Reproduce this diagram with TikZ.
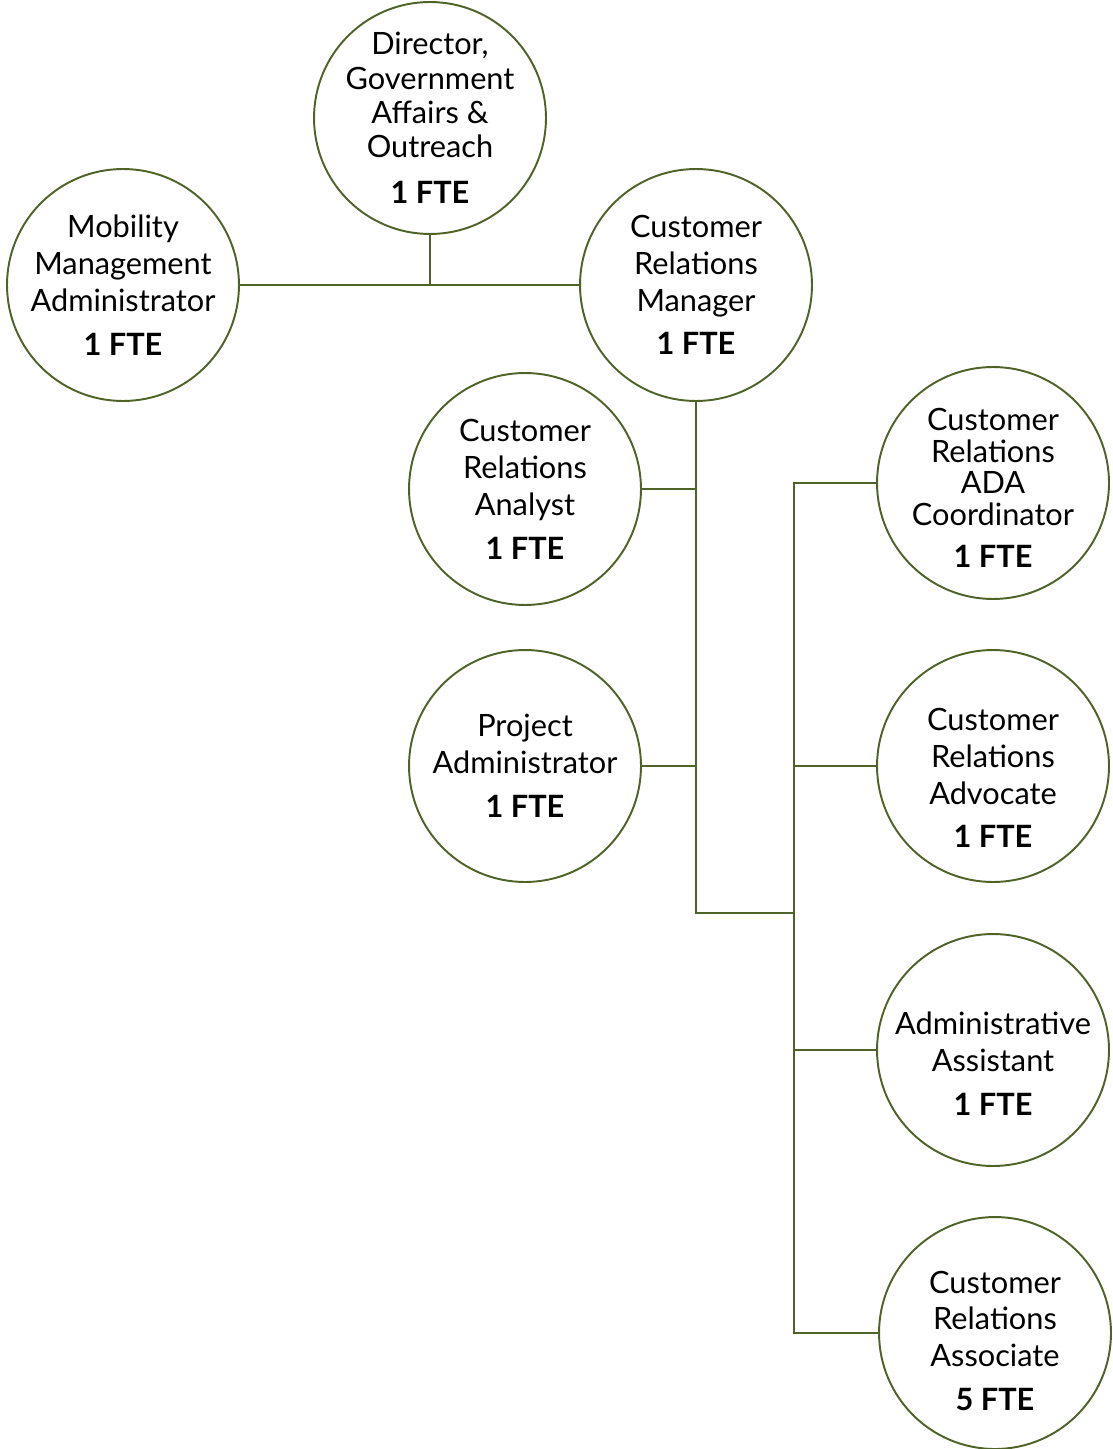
\documentclass[tikz,border=0pt]{standalone}
\usepackage{fontspec}
\setmainfont{Lato}
\usepackage{tikz}
\usetikzlibrary{positioning, calc}
\definecolor{olive}{HTML}{4F6228}

\begin{document}
\begin{tikzpicture}
[x=0.02cm, y=-0.02cm,
 post/.style={circle, draw=olive, line width=1.1pt, fill=white, inner sep=0pt,
   minimum size=4.64cm},
 txt/.style={align=center, inner sep=0pt, font=\fontsize{17.5}{21}\selectfont},
 link/.style={draw=olive, line width=1.1pt}]

\useasboundingbox (0,0) rectangle (1112,1449);

% the posts
\node[post, label={[txt]center:Director,\\[-1.5pt] Government\\[-1.5pt] Affairs \&\\[-1.5pt] Outreach\\[5pt] \textbf{1 FTE}}] (dir) at (430,118) {};
\node[post, label={[txt]center:Mobility\\ Management\\ Administrator\\[4pt] \textbf{1 FTE}}] (mob) at (123,285) {};
\node[post, label={[txt]center:Customer\\ Relations\\ Manager\\[4pt] \textbf{1 FTE}}] (mgr) at (696,285) {};
\node[post, label={[txt]center:Customer\\ Relations\\ Analyst\\[4pt] \textbf{1 FTE}}] (ana) at (525,489) {};
\node[post, label={[txt]center:Project\\ Administrator\\[4pt] \textbf{1 FTE}}] (prj) at (525,766) {};
\node[post, label={[txt, yshift=-2.8pt]center:Customer\\[-3pt] Relations\\[-3pt] ADA\\[-3pt] Coordinator\\[3pt] \textbf{1 FTE}}] (ada) at (993,483) {};
\node[post, label={[txt, yshift=-6.8pt]center:Customer\\ Relations\\ Advocate\\[4pt] \textbf{1 FTE}}] (adv) at (993,766) {};
\node[post, label={[txt, yshift=-8pt]center:Administrative\\ Assistant\\[4pt] \textbf{1 FTE}}] (ast) at (993,1050) {};
\node[post, label={[txt, yshift=-4.5pt]center:Customer\\ Relations\\ Associate\\[4pt] \textbf{5 FTE}}] (aso) at (995,1333) {};

% junctions
\coordinate (jt) at (794,483);
\coordinate (jb) at (794,1333);
\coordinate (jm) at (794,913);

% lines
\draw[link] (mob.east) -- (mgr.west);
\draw[link] (dir.south) -- (dir.south |- mob.east);
\draw[link] (mgr.south) |- (jm);
\draw[link] (ana.east) -- (mgr.south |- ana.east);
\draw[link] (prj.east) -- (mgr.south |- prj.east);
\draw[link] (ada.west) -- (jt) -- (jb) -- (aso.west);
\draw[link] (adv.west) -- (jt |- adv.west);
\draw[link] (ast.west) -- (jt |- ast.west);

\end{tikzpicture}
\end{document}
